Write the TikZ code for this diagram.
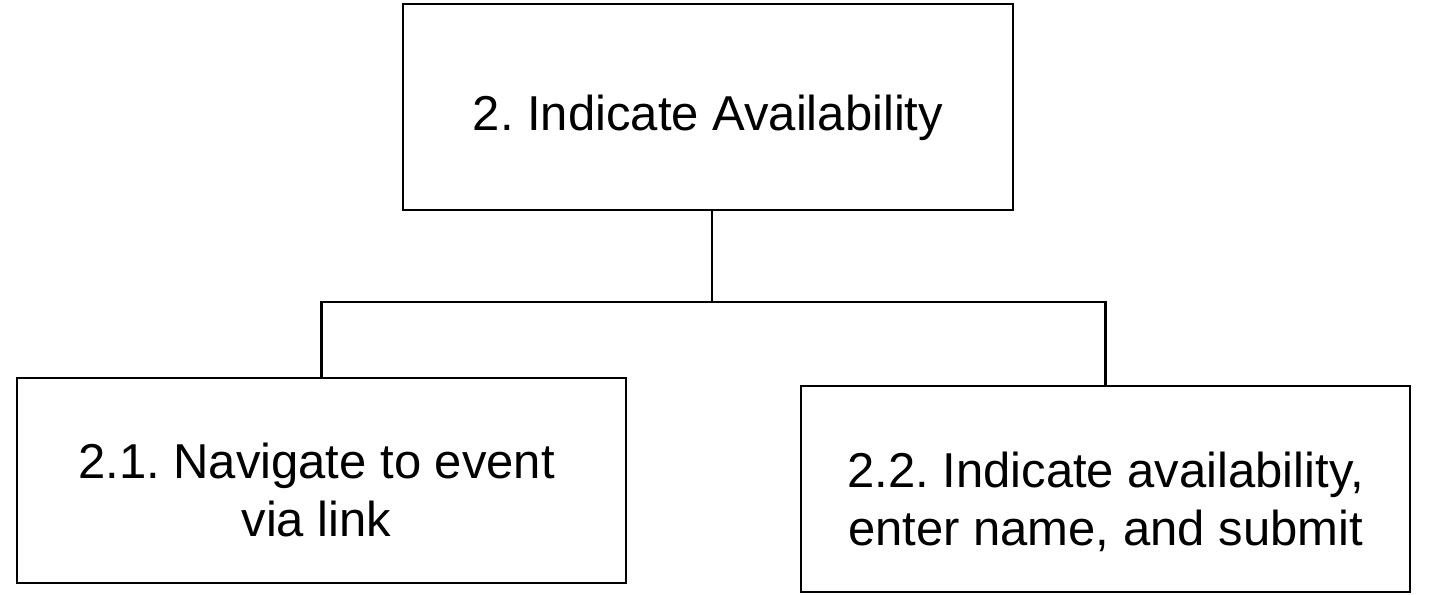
\documentclass[tikz,border=0pt]{standalone}
\usepackage{fontspec}
\setmainfont{Liberation Sans}
\frenchspacing
\begin{document}
\begin{tikzpicture}[x=1pt,y=-1pt]
	\tikzstyle{every node}=[font=\fontsize{49}{58}\selectfont]
	\tikzstyle{taskbox}=[draw, line width=2.5pt, inner sep=0pt]
	\tikzstyle{tasktext}=[align=center, inner sep=0pt]
	\tikzstyle{link}=[line width=2.5pt]
	\useasboundingbox (0,0) rectangle (1431,594);
	
	\node[taskbox, minimum width=610pt, minimum height=206pt] (main) at (708,107) {};
	\node[taskbox, minimum width=609pt, minimum height=205pt] (nav) at (321.5,480.5) {};
	\node[taskbox, minimum width=609pt, minimum height=206pt] (submit) at (1105.5,489) {};
	
	\node[tasktext] (main-text) at ([yshift=-11pt]main.center) {2. Indicate Availability};
	\node[tasktext] (nav-text) at ([xshift=-5pt,yshift=-9pt]nav.center) {2.1. Navigate to event\\via link};
	\node[tasktext] (submit-text) at ([yshift=-13pt]submit.center) {2.2. Indicate availability,\\enter name, and submit};
	
	\coordinate (fork) at (712,302);
	\draw[link] (main.south -| fork) -- (fork);
	\draw[link] (nav.north) |- (fork) -| (submit.north);
\end{tikzpicture}
\end{document}
